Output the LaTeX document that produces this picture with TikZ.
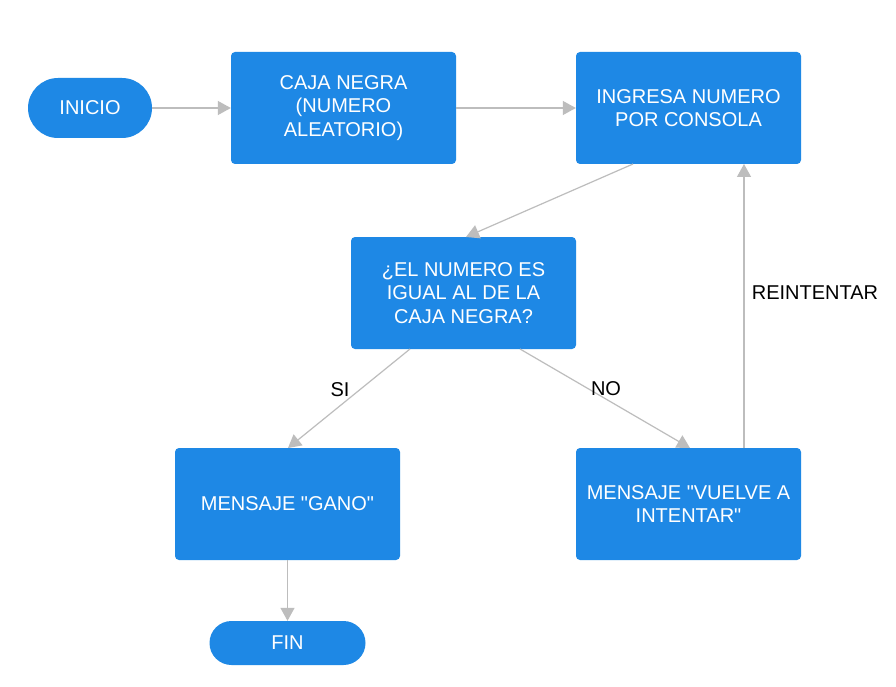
\documentclass[tikz,border=0pt]{standalone}
\usepackage{fontspec}
\setmainfont{Liberation Sans}
\newfontfamily\lsans{Liberation Sans}
\usetikzlibrary{arrows.meta}
\definecolor{boxblue}{HTML}{1E88E5}
\definecolor{linegray}{HTML}{BDBDBD}
\begin{document}
\begin{tikzpicture}[x=1pt,y=-1pt,
  box/.style={fill=boxblue,draw=none,rounded corners=4pt,text=white,align=center,
    minimum width=225pt,minimum height=112pt,inner sep=0pt,
    font=\lsans\fontsize{20}{23.5}\selectfont},
  term/.style={fill=boxblue,draw=none,rounded corners=22pt,text=white,align=center,
    inner sep=0pt,font=\lsans\fontsize{20}{23.5}\selectfont},
  conn/.style={draw=linegray,line width=1.2pt,-{Triangle[width=14pt,length=13pt]}},
  lbl/.style={font=\lsans\fontsize{20}{23.5}\selectfont,text=black,inner sep=0pt}]
\useasboundingbox[fill=white] (0,0) rectangle (896,687);
\node[term,minimum width=124pt,minimum height=60pt,rounded corners=30pt] (inicio) at (90,108) {INICIO};
\node[box] (caja) at (343.5,108) {CAJA NEGRA\\(NUMERO\\ALEATORIO)};
\node[box] (ingresa) at (688.5,108) {INGRESA NUMERO\\POR CONSOLA};
\node[box] (dec) at (463.5,293) {¿EL NUMERO ES\\IGUAL AL DE LA\\CAJA NEGRA?};
\node[box] (gano) at (287.5,504) {MENSAJE "GANO"};
\node[box] (vuelve) at (688.5,504) {MENSAJE "VUELVE A\\INTENTAR"};
\node[term,minimum width=156pt,minimum height=44pt] (fin) at (287.5,643) {FIN};
\coordinate (ib) at (633,164);
\coordinate (dt) at (466,237);
\coordinate (dbl) at (410,349);
\coordinate (gt) at (288,448);
\coordinate (dbr) at (520,349);
\coordinate (vt) at (690,448);
\coordinate (vtop) at (744,448);
\coordinate (ibot) at (744,164);
\draw[conn] (inicio.east) -- (caja.west);
\draw[conn] (caja.east) -- (ingresa.west);
\draw[conn] (ib) -- (dt);
\draw[conn] (dbl) -- (gt);
\draw[conn] (dbr) -- (vt);
\draw[conn] (vtop) -- (ibot);
\draw[conn] (gano.south) -- (fin.north);
\node[lbl] (si) at (340,390) {SI};
\node[lbl] (no) at (606,389) {NO};
\node[lbl] (re) at (815,293) {REINTENTAR};
\end{tikzpicture}
\end{document}
